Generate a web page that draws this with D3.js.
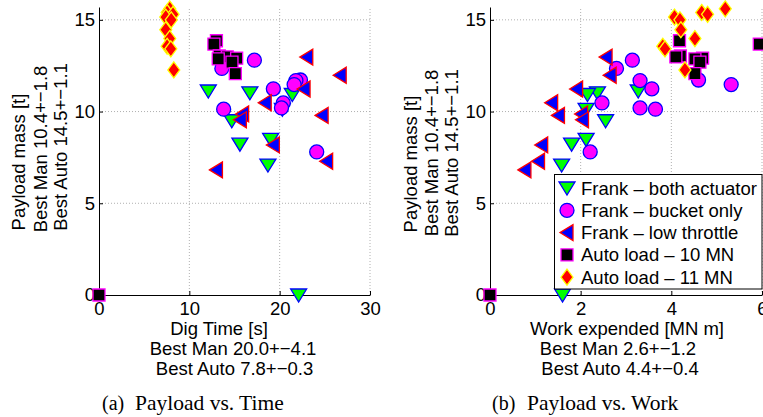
<!DOCTYPE html>
<html>
<head>
<meta charset="utf-8">
<script src="https://cdn.jsdelivr.net/npm/d3@7"></script>
<style>
  body { margin: 0; background: #fff; }
  svg text { font-family: "Liberation Sans", Arial, sans-serif; }
  svg text.cap { font-family: "Liberation Serif", "Times New Roman", serif; }
</style>
</head>
<body>
<script>
// series names (legend order = draw order)
const seriesNames = ["Frank \u2013 both actuator", "Frank \u2013 bucket only", "Frank \u2013 low throttle",
                     "Auto load \u2013 10 MN", "Auto load \u2013 11 MN"];

// Frank - both actuators
const bothPayload = [11.12, 11.02, 10.93, 10.12, 9.5, 8.48, 8.22, 7.08, 0];
const bothTime    = [12.1, 16.7, 21.4, 20.3, 14.7, 19.0, 15.6, 18.7, 22.1];
const bothWork    = [3.27, 2.37, 2.15, 2.12, 2.55, 2.12, 1.8, 1.58, 1.6];

// Frank - bucket only
const bucketPayload = [12.8, 12.35, 11.72, 11.69, 11.47, 11.24, 10.47, 10.2, 10.13, 7.8];
const bucketTime    = [17.2, 13.6, 22.3, 21.8, 21.6, 19.3, 20.4, 20.2, 13.8, 24.1];
const bucketWork    = [3.14, 2.79, 4.6, 3.31, 5.32, 3.57, 2.47, 3.31, 3.65, 2.21];

// Frank - low throttle
const lowPayload = [12.97, 11.98, 11.23, 10.48, 9.87, 9.79, 9.55, 8.18, 7.29, 6.82];
const lowTime    = [23.0, 26.7, 22.7, 18.4, 15.9, 24.7, 15.65, 19.3, 25.2, 13.0];
const lowWork    = [2.56, 2.65, 1.91, 1.36, 2.02, 1.51, 2.04, 1.14, 1.07, 0.77];

// Auto load - 10 MN
const auto10Payload = [13.86, 13.68, 13.03, 12.98, 12.91, 12.87, 12.69, 12.07, 0];
const auto10Time    = [13.0, 12.72, 13.31, 14.2, 15.24, 13.2, 14.72, 15.09, 0];
const auto10Work    = [4.18, 5.94, 4.2, 4.1, 4.69, 4.52, 4.63, 4.52, 0];

// Auto load - 11 MN
const auto11Payload = [15.6, 15.4, 15.3, 15.15, 15.0, 14.46, 13.98, 13.56, 13.42, 12.27];
const auto11Time    = [7.83, 7.54, 8.2, 7.39, 8.0, 7.39, 7.83, 7.54, 7.95, 8.28];
const auto11Work    = [5.19, 4.67, 4.8, 4.07, 4.19, 4.21, 4.52, 3.81, 3.86, 4.3];

const payloadTicks = [0, 5, 10, 15];
const timeTicks = [0, 10, 20, 30];
const workTicks = [0, 2, 4, 6];

// marker styles
const markers = [
  { path: "M-8,-6L8,-6L0,7Z",          fill: "#00ff00", stroke: "#0000ff" },
  { circle: 7,                          fill: "#ff00ff", stroke: "#0000ff" },
  { path: "M-7,0L6,-8L6,8Z",            fill: "#0000ff", stroke: "#ff0000" },
  { path: "M-6,-6L6,-6L6,6L-6,6Z",      fill: "#000000", stroke: "#ff00ff" },
  { path: "M0,-8L6,0L0,8L-6,0Z",        fill: "#ff0000", stroke: "#ffff00" }
];

const payloads = [bothPayload, bucketPayload, lowPayload, auto10Payload, auto11Payload];
const times = [bothTime, bucketTime, lowTime, auto10Time, auto11Time];
const works = [bothWork, bucketWork, lowWork, auto10Work, auto11Work];

const fs = 18.5;

const svg = d3.select("body").append("svg")
  .attr("width", 763)
  .attr("height", 417);

const yScale = d3.scaleLinear().domain([0, 15.7]).range([295, 7]);

function drawMarker(g, m, x, y) {
  let el;
  if (m.circle) {
    el = g.append("circle").attr("cx", x).attr("cy", y).attr("r", m.circle);
  } else {
    el = g.append("path").attr("d", m.path).attr("transform", "translate(" + x + "," + y + ")");
  }
  el.attr("fill", m.fill).attr("stroke", m.stroke).attr("stroke-width", 1.3);
}

function panel(o) {
  const xScale = d3.scaleLinear().domain(o.domain).range(o.range);
  const g = svg.append("g");

  // grid
  g.selectAll(".vgrid").data(o.ticks.slice(1)).enter().append("line")
    .attr("x1", d => xScale(d)).attr("x2", d => xScale(d))
    .attr("y1", yScale(0)).attr("y2", yScale(15.7))
    .attr("stroke", "#b0b0b0").attr("stroke-dasharray", "1,2");
  g.selectAll(".hgrid").data(payloadTicks.slice(1)).enter().append("line")
    .attr("x1", o.range[0]).attr("x2", o.range[1])
    .attr("y1", d => yScale(d)).attr("y2", d => yScale(d))
    .attr("stroke", "#b0b0b0").attr("stroke-dasharray", "1,2");

  const xAxis = d3.axisBottom(xScale).tickValues(o.ticks).tickFormat(d3.format("d"))
    .tickSizeInner(-4).tickSizeOuter(0).tickPadding(7);
  const yAxis = d3.axisLeft(yScale).tickValues(payloadTicks).tickFormat(d3.format("d"))
    .tickSizeInner(-4).tickSizeOuter(0).tickPadding(4);

  g.append("g").attr("transform", "translate(0," + yScale(0) + ")").call(xAxis)
    .attr("font-size", fs).attr("font-family", null);
  g.append("g").attr("transform", "translate(" + o.range[0] + ",0)").call(yAxis)
    .attr("font-size", fs).attr("font-family", null);

  // data
  payloads.forEach((p, s) => {
    const sg = g.append("g");
    p.forEach((v, i) => drawMarker(sg, markers[s], xScale(o.xs[s][i]), yScale(v)));
  });

  // x labels
  o.xLabels.forEach((t, i) => {
    g.append("text").attr("x", o.xLabelX[i]).attr("y", 335 + i * 20)
      .attr("text-anchor", "middle").attr("font-size", fs).text(t);
  });
  // y labels
  o.yLabels.forEach((t, i) => {
    g.append("text")
      .attr("transform", "translate(" + o.yLabelX[i] + "," + o.yLabelY[i] + ") rotate(-90)")
      .attr("text-anchor", "middle").attr("font-size", fs).text(t);
  });
  // caption
  g.append("text").attr("class", "cap").attr("x", o.capX[0]).attr("y", 410)
    .attr("font-size", 20).text(o.caption[0]);
  g.append("text").attr("class", "cap").attr("x", o.capX[1]).attr("y", 410)
    .attr("font-size", 21.5).text(o.caption[1]);
}

const yLabels = ["Payload mass [t]", "Best Man 10.4+\u22121.8", "Best Auto 14.5+\u22121.1"];

panel({
  domain: [0, 30], range: [99, 370], ticks: timeTicks, xs: times,
  xLabels: ["Dig Time [s]", "Best Man 20.0+\u22124.1", "Best Auto 7.8+\u22120.3"],
  xLabelX: [219, 233, 234.5],
  yLabels: yLabels, yLabelX: [25, 47, 67], yLabelY: [162, 149, 147],
  caption: ["(a)", "Payload vs. Time"], capX: [102, 135]
});

panel({
  domain: [0, 6], range: [490, 762], ticks: workTicks, xs: works,
  xLabels: ["Work expended [MN m]", "Best Man 2.6+\u22121.2", "Best Auto 4.4+\u22120.4"],
  xLabelX: [627, 618, 620],
  yLabels: yLabels, yLabelX: [417, 438, 458], yLabelY: [164, 153, 153],
  caption: ["(b)", "Payload vs. Work"], capX: [492, 527]
});

// legend (right panel)
const leg = svg.append("g");
leg.append("rect").attr("x", 554.5).attr("y", 174.5).attr("width", 207.5).attr("height", 114.5)
  .attr("fill", "#fff").attr("stroke", "#000");
seriesNames.forEach((n, i) => {
  const cy = 188 + i * 22.3;
  drawMarker(leg, markers[i], 567, cy);
  leg.append("text").attr("x", 581).attr("y", cy + 6.5).attr("font-size", fs).text(n);
});
</script>
</body>
</html>
